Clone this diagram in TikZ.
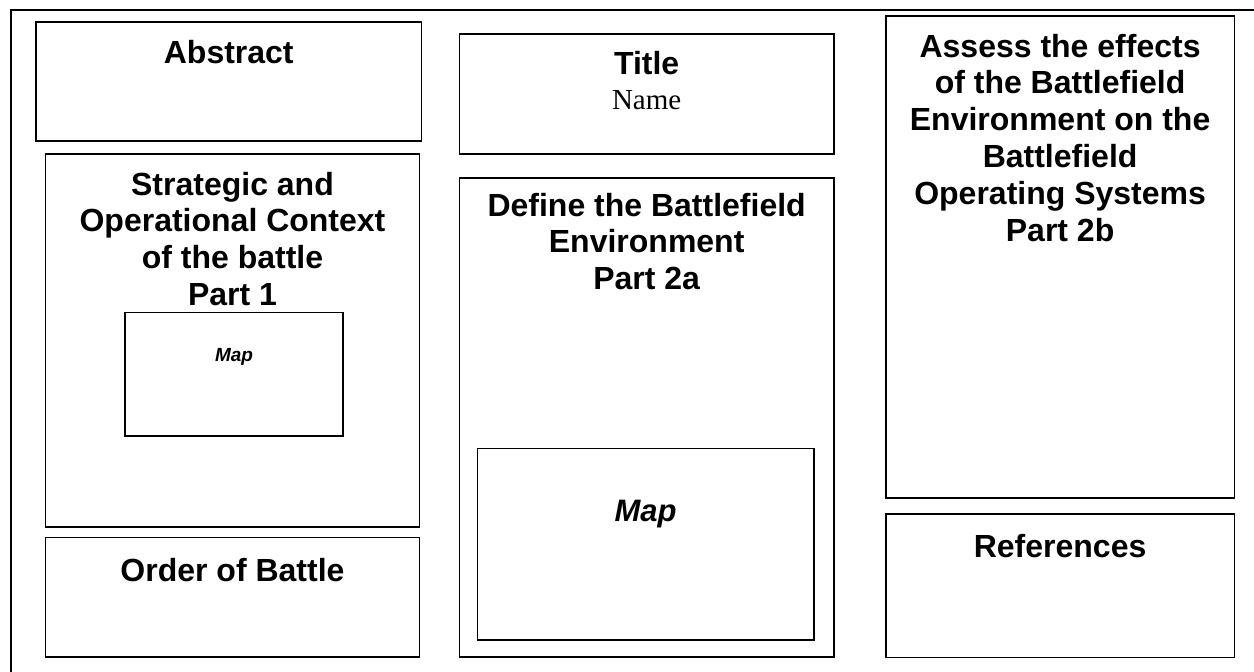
\documentclass[tikz,border=0pt]{standalone}
\usepackage{fontspec}
\setmainfont{Liberation Serif}
\setsansfont{Liberation Sans}
\usetikzlibrary{positioning}

\begin{document}
\begin{tikzpicture}[x=1pt,y=-1pt,
  panel/.style={draw, rectangle, line width=1.6pt, inner sep=0pt, outer sep=0pt, anchor=north west},
  mapbox/.style={panel, line width=1.3pt},
  heading/.style={font=\sffamily\bfseries\fontsize{32}{36.8}\selectfont, align=center, anchor=base, inner sep=0pt},
  maplabel/.style={font=\sffamily\bfseries\itshape, anchor=base, inner sep=0pt}]

  \useasboundingbox (0,0) rectangle (1254,672);
  % outer frame, runs off the page at right and bottom
  \draw[line width=2.6pt] (11,10) rectangle (1275,695);

  % left column
  \node[panel, minimum width=385.5, minimum height=119] (abstract) at (36,21.7) {};
  \node[panel, minimum width=374, minimum height=373] (context) at (45.5,154) {};
  \node[mapbox, minimum width=218, minimum height=123.3] (map1) at (125,312.7) {};
  \node[panel, minimum width=374, minimum height=119.5] (order) at (45.5,537.5) {};

  % middle column
  \node[panel, minimum width=374.7, minimum height=120] (titlebox) at (459.3,34) {};
  \node[panel, minimum width=374.7, minimum height=479] (define) at (459.3,178) {};
  \node[mapbox, minimum width=336.7, minimum height=191.3] (map2) at (477.3,448.7) {};

  % right column
  \node[panel, minimum width=348.8, minimum height=482.3] (assess) at (885.7,15.7) {};
  \node[panel, minimum width=348.8, minimum height=143.5] (refs) at (885.7,514) {};

  % texts (multi-line ones sit on the baseline of their last line)
  \node[heading] (abstractlbl) at (abstract.north |- 0,63) {Abstract};
  \node[heading] (contextlbl) at (context.north |- 0,305.4)
    {Strategic and\\Operational Context\\of the battle\\Part 1};
  \node[maplabel, font=\sffamily\bfseries\itshape\fontsize{19}{22}\selectfont] (map1lbl) at (map1.north |- 0,361) {Map};
  \node[heading] (orderlbl) at (order.north |- 0,581) {Order of Battle};
  \node[heading] (titlelbl) at (titlebox.north |- 0,74) {Title};
  \node[anchor=base, inner sep=0pt, font=\rmfamily\fontsize{29}{34}\selectfont] (namelbl) at (titlebox.north |- 0,109) {Name};
  \node[heading] (definelbl) at (define.north |- 0,289.6)
    {Define the Battlefield\\Environment\\Part 2a};
  \node[maplabel, font=\sffamily\bfseries\itshape\fontsize{31}{36}\selectfont] (map2lbl) at (map2.north |- 0,521) {Map};
  \node[heading] (assesslbl) at (assess.north |- 0,241)
    {Assess the effects\\of the Battlefield\\Environment on the\\Battlefield\\Operating Systems\\Part 2b};
  \node[heading] (refslbl) at (refs.north |- 0,557) {References};
\end{tikzpicture}
\end{document}
